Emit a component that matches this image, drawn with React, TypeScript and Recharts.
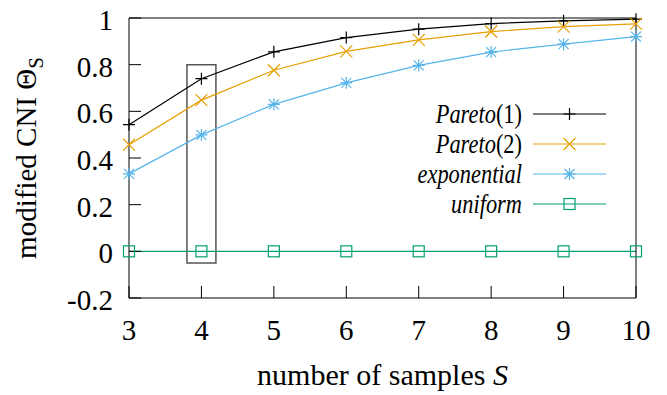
import { LineChart, Line, XAxis, YAxis, Legend, ReferenceArea, Label } from "recharts";

const samples = [3, 4, 5, 6, 7, 8, 9, 10];
const pareto1 = [0.543, 0.74, 0.855, 0.916, 0.952, 0.976, 0.988, 0.995];
const pareto2 = [0.457, 0.648, 0.776, 0.857, 0.906, 0.942, 0.963, 0.975];
const exponential = [0.332, 0.499, 0.63, 0.722, 0.797, 0.854, 0.888, 0.92];
const uniform = [0, 0, 0, 0, 0, 0, 0, 0];
const yTicks = [-0.2, 0, 0.2, 0.4, 0.6, 0.8, 1];

const data = samples.map((s, i) => ({
  s,
  p1: pareto1[i],
  p2: pareto2[i],
  exp: exponential[i],
  uni: uniform[i],
}));

const FONT = "Liberation Serif, Times New Roman, serif";

type MarkFn = (cx: number, cy: number, color: string, key?: any) => any;

const plus: MarkFn = (cx, cy, color, key) => (
  <path key={key} d={`M${cx - 6},${cy}h12M${cx},${cy - 6}v12`} stroke={color} strokeWidth={1.2} fill="none" />
);
const cross: MarkFn = (cx, cy, color, key) => (
  <path
    key={key}
    d={`M${cx - 6},${cy - 6}L${cx + 6},${cy + 6}M${cx - 6},${cy + 6}L${cx + 6},${cy - 6}`}
    stroke={color}
    strokeWidth={1.2}
    fill="none"
  />
);
const star: MarkFn = (cx, cy, color, key) => (
  <path
    key={key}
    d={`M${cx - 6},${cy}h12M${cx},${cy - 6}v12M${cx - 5},${cy - 5}L${cx + 5},${cy + 5}M${cx - 5},${cy + 5}L${cx + 5},${cy - 5}`}
    stroke={color}
    strokeWidth={1.2}
    fill="none"
  />
);
const square: MarkFn = (cx, cy, color, key) => (
  <rect key={key} x={cx - 5.5} y={cy - 5.5} width={11} height={11} stroke={color} strokeWidth={1.2} fill="none" />
);

const series = [
  { key: "p1", name: "Pareto(1)", color: "#000000", mark: plus },
  { key: "p2", name: "Pareto(2)", color: "#e69f00", mark: cross },
  { key: "exp", name: "exponential", color: "#56b4e9", mark: star },
  { key: "uni", name: "uniform", color: "#009e73", mark: square },
];

function LegendName({ name }: { name: string }) {
  const m = name.match(/^(.*?)(\(\d+\))?$/);
  return (
    <>
      <span style={{ fontStyle: "italic" }}>{m ? m[1] : name}</span>
      {m && m[2] ? <span>{m[2]}</span> : null}
    </>
  );
}

function KeyBox() {
  return (
    <div style={{ fontFamily: FONT, fontSize: 28, color: "#000" }}>
      {series.map((s) => (
        <div key={s.key} style={{ display: "flex", alignItems: "center", height: 30 }}>
          <div
            style={{
              width: 200,
              textAlign: "right",
              lineHeight: "30px",
              whiteSpace: "nowrap",
              transform: "scaleX(0.8)",
              transformOrigin: "right center",
            }}
          >
            <LegendName name={s.name} />
          </div>
          <svg width={84} height={30} style={{ display: "block" }}>
            <line x1={11} y1={15} x2={84} y2={15} stroke={s.color} strokeWidth={1.2} />
            {s.mark(47.5, 15, s.color)}
          </svg>
        </div>
      ))}
    </div>
  );
}

function YTitle(props: any) {
  const vb = props.viewBox;
  const cx = vb.x + 36;
  const cy = vb.y + vb.height / 2;
  return (
    <text
      x={cx}
      y={cy}
      transform={`rotate(-90 ${cx} ${cy})`}
      textAnchor="middle"
      fontFamily={FONT}
      fontSize={29}
      fill="#000"
    >
      modified CNI Θ
      <tspan fontSize={21} dy={7}>
        S
      </tspan>
    </text>
  );
}

function XTitle(props: any) {
  const vb = props.viewBox;
  return (
    <text x={vb.x + vb.width / 2} y={vb.y + 87} textAnchor="middle" fontFamily={FONT} fontSize={30} fill="#000">
      number of samples <tspan fontStyle="italic">S</tspan>
    </text>
  );
}

const fmt = (v: number) => String(Math.round(v * 10) / 10);

function XTick(props: any) {
  return (
    <text x={props.x} y={props.y} dy={21} textAnchor="middle" fontFamily={FONT} fontSize={29} fill="#000">
      {fmt(props.payload.value)}
    </text>
  );
}

function YTick(props: any) {
  return (
    <text x={props.x} y={props.y} dy={12} textAnchor="end" fontFamily={FONT} fontSize={29} fill="#000">
      {fmt(props.payload.value)}
    </text>
  );
}

export default function App() {
  return (
    <div style={{ position: "absolute", left: 0, top: 0, background: "#fff" }}>
      <LineChart width={667} height={395} data={data} margin={{ top: 17, right: 30, left: 0, bottom: 0 }}>
        <XAxis
          dataKey="s"
          type="number"
          domain={[3, 10]}
          ticks={samples}
          height={97}
          stroke="#000"
          tickSize={-12}
          tickMargin={33}
          tick={XTick}
          interval={0}
        >
          <Label content={XTitle} />
        </XAxis>
        <XAxis
          xAxisId="top"
          orientation="top"
          dataKey="s"
          type="number"
          domain={[3, 10]}
          ticks={samples}
          height={1}
          stroke="#000"
          tickLine={false}
          tick={false}
          interval={0}
        />
        <YAxis
          type="number"
          domain={[-0.2, 1]}
          ticks={yTicks}
          width={129}
          stroke="#000"
          tickSize={-12}
          tickMargin={28}
          tick={YTick}
          interval={0}
        >
          <Label content={YTitle} />
        </YAxis>
        <YAxis
          yAxisId="right"
          orientation="right"
          type="number"
          domain={[-0.2, 1]}
          ticks={yTicks}
          width={1}
          stroke="#000"
          tickSize={-12}
          tick={false}
          interval={0}
        />
        <ReferenceArea x1={3.8} x2={4.2} y1={-0.05} y2={0.8} fill="none" stroke="#555" strokeWidth={1.5} />
        {series.map((s) => (
          <Line
            key={s.key}
            dataKey={s.key}
            name={s.name}
            stroke={s.color}
            strokeWidth={1.2}
            type="linear"
            isAnimationActive={false}
            dot={(p: any) => s.mark(p.cx, p.cy, s.color, p.index)}
            activeDot={false}
          />
        ))}
        <Legend
          layout="vertical"
          align="center"
          verticalAlign="middle"
          content={() => <KeyBox />}
          wrapperStyle={{ left: 322, top: 99, width: 290 }}
        />
      </LineChart>
    </div>
  );
}
